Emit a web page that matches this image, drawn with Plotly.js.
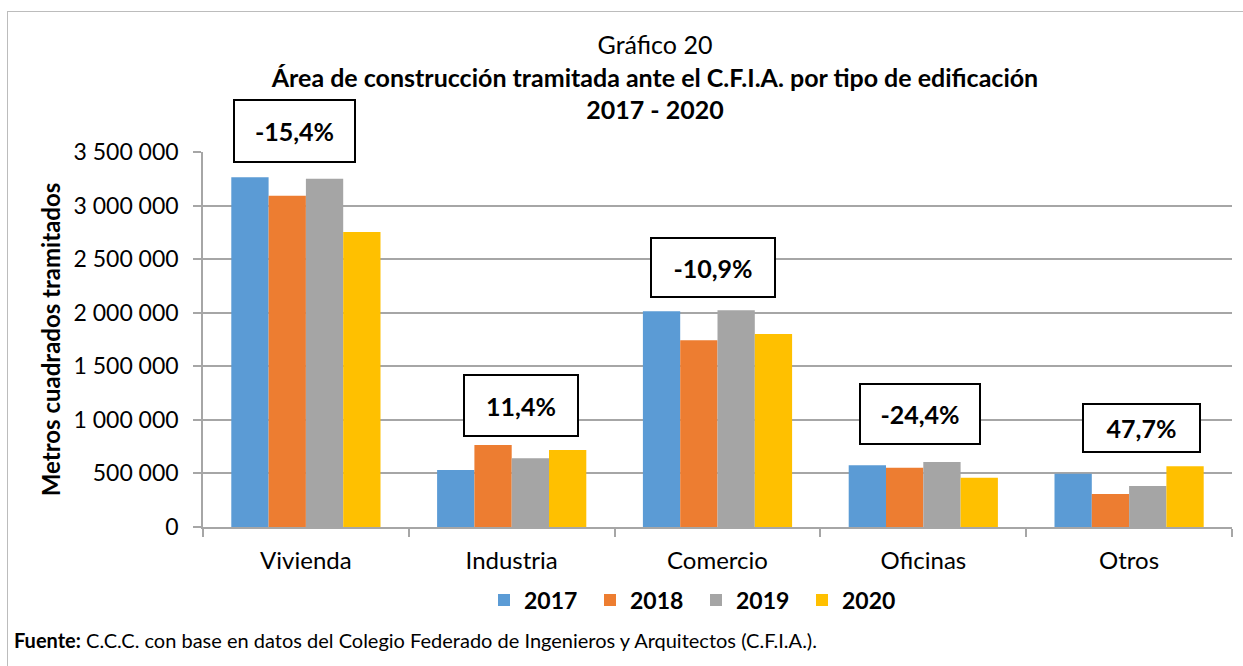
<!DOCTYPE html>
<html>
<head>
<meta charset="utf-8">
<script src="https://cdn.plot.ly/plotly-3.0.1.min.js"></script>
<style>
  html, body { margin: 0; padding: 0; background: #ffffff; overflow: hidden; }
  #frame { position: absolute; left: 7px; top: 11px; width: 1400px; height: 800px; border: 1px solid #bcbcbc; }
  #chart { position: absolute; left: 0; top: 0; width: 1243px; height: 666px; }
</style>
</head>
<body>
<div id="frame"></div>
<div id="chart"></div>
<script>
// ---- data ----
const categories = ["Vivienda", "Industria", "Comercio", "Oficinas", "Otros"];
const years = ["2017", "2018", "2019", "2020"];
const values2017 = [3264000, 532000, 2013000, 576000, 498000];
const values2018 = [3092000, 765000, 1742000, 554000, 308000];
const values2019 = [3251000, 641000, 2022000, 607000, 383000];
const values2020 = [2753000, 718000, 1801000, 459000, 566000];
const changeLabels = ["-15,4%", "11,4%", "-10,9%", "-24,4%", "47,7%"];
const yTickVals = [0, 500000, 1000000, 1500000, 2000000, 2500000, 3000000, 3500000];

// ---- styles ----
const colors = ["#5B9BD5", "#ED7D31", "#A5A5A5", "#FFC000"];
const FONT = "Lato, 'Open Sans', sans-serif";
const boxDx = [-11, 9, -5, -3, 12];
const boxGap = [14, 8, 12, 17, 13];
const boxW = [119, 112, 122, 118, 115];
const boxH = [60, 59, 57, 58, 46];

const series = [values2017, values2018, values2019, values2020];
const traces = series.map((vals, i) => ({
  type: "bar",
  name: years[i],
  x: categories,
  y: vals,
  marker: { color: colors[i] },
  hoverinfo: "x+y+name"
}));

const annotations = categories.map((c, i) => ({
  x: c, xref: "x",
  y: Math.max(values2017[i], values2018[i], values2019[i], values2020[i]),
  yref: "y",
  yanchor: "bottom",
  xanchor: "center",
  xshift: boxDx[i],
  yshift: boxGap[i],
  text: "<b>" + changeLabels[i] + "</b>",
  showarrow: false,
  font: { family: FONT, size: 25, color: "#000000" },
  bordercolor: "#000000",
  borderwidth: 2,
  borderpad: 0,
  bgcolor: "#ffffff",
  width: boxW[i],
  height: boxH[i],
  valign: "middle",
  align: "center"
}));

annotations.push({
  xref: "paper", yref: "paper",
  x: (12 - 203) / 1029, y: (527 - 640) / 375,
  xanchor: "left", yanchor: "middle",
  text: "<b>Fuente:</b> C.C.C. con base en datos del Colegio Federado de Ingenieros y Arquitectos (C.F.I.A.).",
  showarrow: false,
  font: { family: FONT, size: 20, color: "#000000" }
});

const layout = {
  width: 1243,
  height: 666,
  margin: { l: 203, r: 11, t: 152, b: 139, pad: 0 },
  paper_bgcolor: "rgba(0,0,0,0)",
  plot_bgcolor: "rgba(0,0,0,0)",
  separators: ", ",
  font: { family: FONT, color: "#000000" },
  title: {
    text: "Gráfico 20<br><b>Área de construcción tramitada ante el C.F.I.A. por tipo de edificación</b><br><b>2017 - 2020</b>",
    font: { family: FONT, size: 25, color: "#000000" },
    xref: "container", x: 655 / 1243, xanchor: "center",
    yref: "container", y: 1 - 54 / 666, yanchor: "top"
  },
  barmode: "group",
  bargap: 0.275,
  bargroupgap: 0,
  showlegend: true,
  legend: {
    orientation: "h",
    x: (484 - 203) / 1029, xanchor: "left",
    y: (527 - 600) / 375, yanchor: "middle",
    font: { family: FONT, size: 23, color: "#000000", weight: "bold" },
    entrywidth: 61, entrywidthmode: "pixels",
    itemclick: false, itemdoubleclick: false
  },
  xaxis: {
    type: "category",
    showline: true, linecolor: "#a6a6a6", linewidth: 1.5,
    ticks: "outside", tickson: "boundaries", ticklen: 8, tickcolor: "#a6a6a6", tickwidth: 1.5,
    ticklabelstandoff: 11,
    tickfont: { family: FONT, size: 24, color: "#000000" },
    showgrid: false, fixedrange: true
  },
  yaxis: {
    range: [0, 3500000],
    tickvals: yTickVals,
    tickformat: ",d",
    showline: true, linecolor: "#a6a6a6", linewidth: 1.5,
    ticks: "outside", ticklen: 8, tickcolor: "#a6a6a6", tickwidth: 1.5,
    ticklabelstandoff: 10,
    tickfont: { family: FONT, size: 23, color: "#000000" },
    showgrid: true, gridcolor: "#a6a6a6", gridwidth: 1.5,
    zeroline: false,
    title: {
      text: "<b>Metros cuadrados tramitados</b>",
      font: { family: FONT, size: 24, color: "#000000", weight: "bold" },
      standoff: 6
    },
    fixedrange: true
  },
  annotations: annotations
};

Plotly.newPlot("chart", traces, layout, { displayModeBar: false, staticPlot: false });
</script>
</body>
</html>
